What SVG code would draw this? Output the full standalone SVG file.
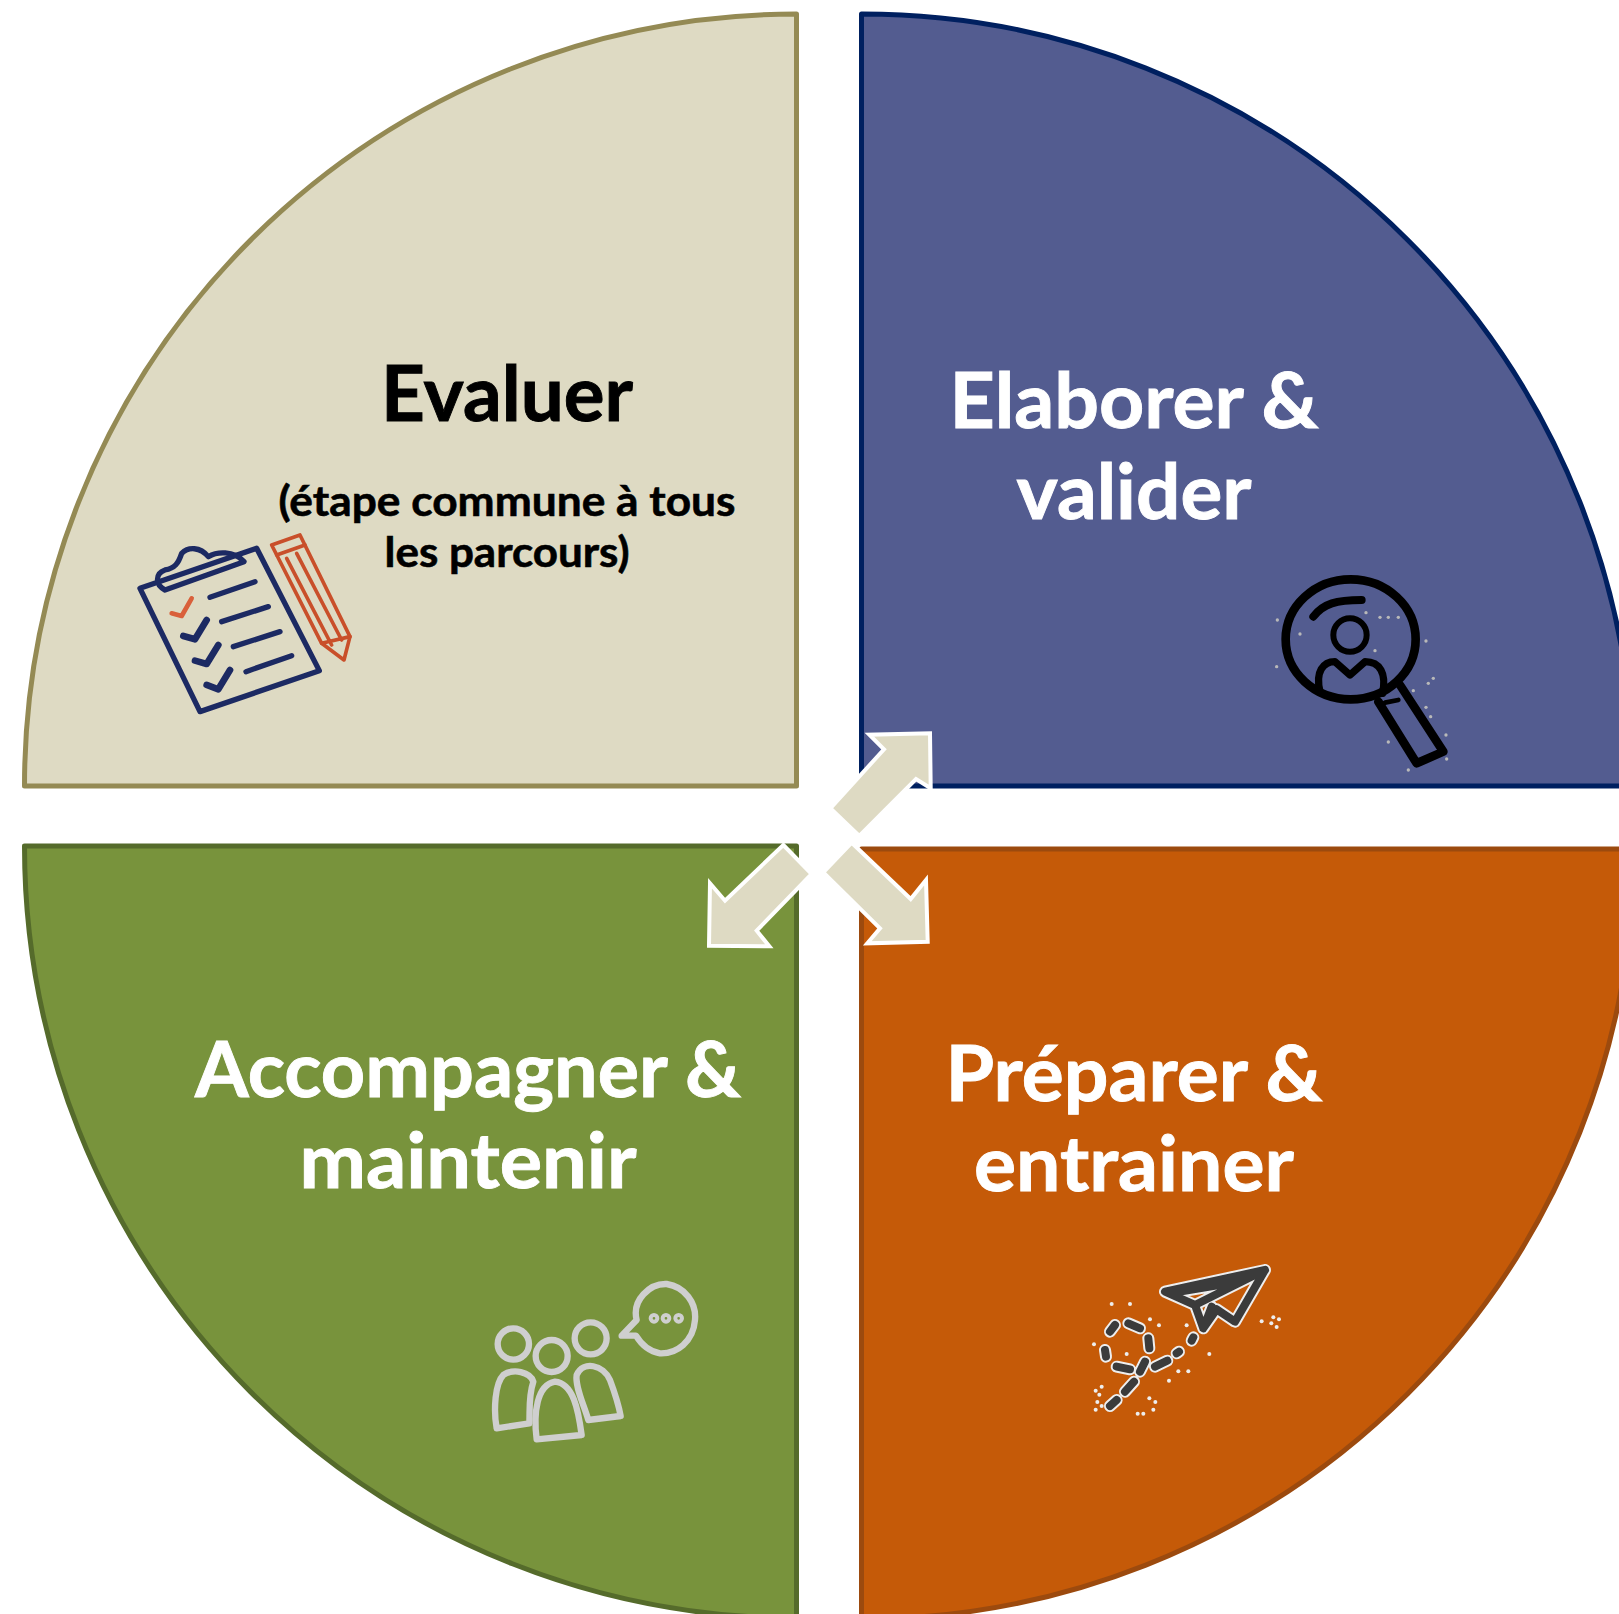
<svg xmlns="http://www.w3.org/2000/svg" width="1619" height="1614" viewBox="0 0 1619 1614">
<style>
.q{stroke-width:5;stroke-linejoin:round}
.t{font-family:Lato,"Liberation Sans",sans-serif;font-weight:700;text-anchor:middle;stroke-width:.9;paint-order:stroke}
.big{font-size:76px;fill:#fff;stroke:#fff}
.blk{font-size:76px;fill:#000;stroke:#000}
.sm{font-size:42px;fill:#000;stroke:#000;stroke-width:.6}
.arrow{fill:#dedac3;stroke:#fff;stroke-width:4;stroke-linejoin:miter}
.ic{fill:none;stroke-linecap:round;stroke-linejoin:round}
.dots{fill:#b9b9b9}
</style>
<defs>
<filter id="soft" x="-10%" y="-10%" width="120%" height="120%"><feGaussianBlur stdDeviation=".55"/></filter>
<g id="planeShape" fill="none" stroke-linecap="round" stroke-linejoin="round">
<path d="M255 125L555 60L465 215L410 178L370 235L345 165L255 125ZM345 165L555 60M300 125L480 95M370 235L395 170"/>
<path d="M90 245L105 225M145 220L180 235M75 300L78 320M110 350L150 358M205 265L208 295M180 365L195 335M225 350L262 332M290 310L297 305M335 272L340 262M135 425L162 395M90 468L110 450"/>
</g>
</defs>
<g id="evaluer">
<path class="q" d="M796.5 14V786H24.500A772 772 0 0 1 796.500 14Z" fill="#dedac3" stroke="#948a54"/>
<text class="t blk" x="507" y="421" textLength="252" lengthAdjust="spacingAndGlyphs">Evaluer</text>
<text class="t sm" x="507" y="516" textLength="457" lengthAdjust="spacingAndGlyphs">(étape commune à tous</text>
<text class="t sm" x="507" y="567" textLength="245" lengthAdjust="spacingAndGlyphs">les parcours)</text>
<g transform="translate(120 510) scale(.3333)" class="ic" filter="url(#soft)">
<g stroke="#1f2a63" stroke-width="16">
<path d="M60 235L410 115L598 482L240 605Z"/>
<path d="M135 240C105 225 105 190 135 180C165 175 175 160 185 130C205 110 240 110 265 140C290 125 340 120 372 155L135 240Z"/>
<path d="M270 262L405 215M305 335L445 290M340 410L480 365M378 485L515 437"/>
<path d="M190 378L225 388L260 330M225 452L260 462L295 405M260 525L295 538L330 480" stroke-width="20"/>
</g>
<path d="M155 310L185 318L215 265" stroke="#d9603a" stroke-width="14"/>
<g stroke="#c9502a" stroke-width="11">
<path d="M455 105L540 75L690 380L672 450L605 400Z"/>
<path d="M470 135L555 105M500 145L635 405M530 130L665 390M605 400L690 380"/>
</g>
</g>
</g>
<g id="elaborer">
<path class="q" d="M861.500 14V786H1634A772 772 0 0 0 861.500 14Z" fill="#535c90" stroke="#002060"/>
<text class="t big" x="1134" y="428" textLength="369" lengthAdjust="spacingAndGlyphs">Elaborer &amp;</text>
<text class="t big" x="1134" y="519" textLength="235" lengthAdjust="spacingAndGlyphs">valider</text>
<g transform="translate(1260 560) scale(.3333)" class="ic" stroke="#000">
<ellipse cx="272" cy="238" rx="195" ry="180" stroke-width="26"/>
<path d="M160 170C190 130 230 120 305 120" stroke-width="24"/>
<circle cx="270" cy="225" r="50" stroke-width="18"/>
<path d="M180 395C165 335 190 305 225 305L270 345L315 305C360 305 380 340 368 400" stroke-width="22"/>
<path d="M355 425L470 610L550 575L420 375" stroke-width="26"/>
<path d="M375 428L415 420" stroke-width="14"/>
<g class="dots" stroke="none"><circle cx="52" cy="180" r="5"/><circle cx="50" cy="320" r="5"/><circle cx="120" cy="222" r="5"/><circle cx="360" cy="172" r="5"/><circle cx="385" cy="172" r="5"/><circle cx="415" cy="172" r="5"/><circle cx="498" cy="243" r="5"/><circle cx="520" cy="355" r="5"/><circle cx="505" cy="370" r="5"/><circle cx="460" cy="392" r="5"/><circle cx="498" cy="442" r="5"/><circle cx="512" cy="470" r="5"/><circle cx="558" cy="525" r="5"/><circle cx="385" cy="546" r="5"/><circle cx="445" cy="630" r="5"/><circle cx="560" cy="597" r="5"/><circle cx="345" cy="272" r="5"/><circle cx="318" cy="158" r="5"/></g>
</g>
</g>
<g id="accompagner">
<path class="q" d="M24.500 846H796.500V1618A772 772 0 0 1 24.500 846Z" fill="#78933c" stroke="#556b2b"/>
<text class="t big" x="468" y="1097" textLength="546" lengthAdjust="spacingAndGlyphs">Accompagner &amp;</text>
<text class="t big" x="468" y="1188" textLength="337" lengthAdjust="spacingAndGlyphs">maintenir</text>
<g transform="translate(480 1270) scale(.3333)" class="ic" stroke="#cfcfcf" stroke-width="19" filter="url(#soft)">
<circle cx="100" cy="222" r="47"/><circle cx="215" cy="258" r="48"/><circle cx="332" cy="205" r="48"/>
<path d="M50 475C40 420 45 340 70 315C100 295 150 305 160 335C145 380 150 420 148 460Z"/>
<path d="M170 508C160 430 170 345 225 335C280 340 295 420 305 495Z"/>
<path d="M325 450C310 400 285 350 290 315C310 270 370 285 390 330C405 370 415 400 422 438Z"/>
<path d="M425 197L470 150C455 90 510 40 560 42C615 50 650 100 645 150C640 215 590 252 540 250C510 245 485 225 468 197Z"/>
<circle cx="522" cy="145" r="10" stroke-width="12"/><circle cx="558" cy="145" r="10" stroke-width="12"/><circle cx="596" cy="145" r="10" stroke-width="12"/>
</g>
</g>
<g id="preparer">
<path class="q" d="M861.500 849H1634A772 770 0 0 1 861.500 1619Z" fill="#c55a08" stroke="#9c4a0e"/>
<text class="t big" x="1134" y="1101" textLength="377" lengthAdjust="spacingAndGlyphs">Préparer &amp;</text>
<text class="t big" x="1134" y="1191" textLength="320" lengthAdjust="spacingAndGlyphs">entrainer</text>
<g transform="translate(1080 1250) scale(.3333)" filter="url(#soft)">
<use href="#planeShape" stroke="#eeeeee" stroke-width="36"/>
<use href="#planeShape" stroke="#3a3a3a" stroke-width="24"/>
<g fill="#eee" stroke="none"><circle cx="95" cy="162" r="6"/><circle cx="150" cy="162" r="6"/><circle cx="210" cy="208" r="6"/><circle cx="237" cy="226" r="6"/><circle cx="320" cy="226" r="6"/><circle cx="388" cy="312" r="6"/><circle cx="295" cy="364" r="6"/><circle cx="325" cy="364" r="6"/><circle cx="267" cy="392" r="6"/><circle cx="42" cy="283" r="6"/><circle cx="140" cy="312" r="6"/><circle cx="65" cy="410" r="6"/><circle cx="47" cy="422" r="6"/><circle cx="58" cy="434" r="6"/><circle cx="52" cy="456" r="6"/><circle cx="65" cy="468" r="6"/><circle cx="47" cy="479" r="6"/><circle cx="208" cy="445" r="6"/><circle cx="226" cy="456" r="6"/><circle cx="220" cy="479" r="6"/><circle cx="173" cy="491" r="6"/><circle cx="190" cy="491" r="6"/><circle cx="545" cy="214" r="6"/><circle cx="580" cy="202" r="6"/><circle cx="597" cy="208" r="6"/><circle cx="574" cy="220" r="6"/><circle cx="590" cy="231" r="6"/></g>
</g>
</g>
<g id="connectors">
<polygon class="arrow" points="830.3,808.3 859.3,836 916,779 930.7,788.3 930,733.3 869.3,734.7 884,749.3"/>
<polygon class="arrow" points="783.3,845 811.7,874 756.7,930.7 769.3,946.3 709,945.7 710,883.3 725,900.700"/>
<polygon class="arrow" points="851.7,842.7 910.7,899 926,880 927.7,941.7 867.3,943.3 880,928.3 823.3,872.3"/>
</g>
</svg>
